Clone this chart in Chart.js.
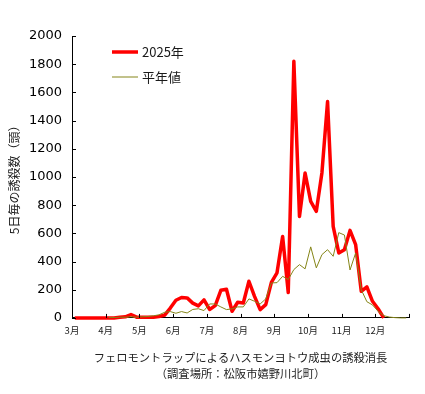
<!DOCTYPE html>
<html>
<head>
<meta charset="utf-8">
<script src="https://cdn.jsdelivr.net/npm/chart.js@4.4.1/dist/chart.umd.min.js"></script>
<style>
  html, body { margin: 0; padding: 0; background: #fff; }
</style>
</head>
<body>
<canvas id="chart" width="425" height="394"></canvas>
<script>
// month labels, one tick every 6 five-day periods
const monthLabels = ['3月', '4月', '5月', '6月', '7月', '8月', '9月', '10月', '11月', '12月', ''];

// trap catches per 5-day period, Mar 1 .. Dec 31 (60 periods)
const catch2025 = [
  0, 0, 0, 0, 0, 0,            // 3月
  0, 0, 5, 8, 24, 5,           // 4月
  5, 5, 5, 10, 20, 70,         // 5月
  125, 145, 142, 105, 85, 128, // 6月
  60, 87, 196, 203, 47, 111,   // 7月
  106, 260, 153, 59, 94, 252,  // 8月
  320, 578, 180, 1820, 720, 1028, // 9月
  827, 756, 1030, 1535, 650, 461, // 10月
  484, 621, 520, 189, 220, 118,   // 11月
  65, 0, null, null, null, null   // 12月
];

const normalYear = [
  null, null, null, null, null, null,
  2, 3, 5, 5, 8, 5,
  8, 10, 15, 22, 40, 45,
  33, 45, 35, 60, 65, 52,
  99, 99, 78, 59, 64, 78,
  78, 135, 118, 99, 135, 248,
  250, 295, 272, 343, 378, 348,
  504, 355, 449, 484, 437, 605,
  588, 340, 461, 200, 115, 92,
  47, 16, 6, 2, 0, 0
];

const seriesNames = ['2025年', '平年値'];

// place each value in the middle of its 5-day slot
function toPoints(values) {
  return values.map((v, i) => ({ x: i + 0.5, y: v }));
}

// small tick marks pointing into the plot, like the original
const innerTicks = {
  id: 'innerTicks',
  afterDraw(chart) {
    const { ctx, scales: { x, y } } = chart;
    ctx.save();
    ctx.strokeStyle = '#000';
    ctx.lineWidth = 1;
    ctx.beginPath();
    y.ticks.forEach(t => {
      const py = Math.round(y.getPixelForValue(t.value)) + 0.5;
      ctx.moveTo(x.left, py);
      ctx.lineTo(x.left + 4, py);
    });
    x.ticks.forEach(t => {
      const px = Math.round(x.getPixelForValue(t.value)) + 0.5;
      ctx.moveTo(px, y.bottom);
      ctx.lineTo(px, y.bottom - 4);
    });
    ctx.stroke();
    ctx.restore();
  }
};

// legend sitting inside the plot, top left
const insideLegend = {
  id: 'insideLegend',
  afterDraw(chart) {
    const ctx = chart.ctx;
    const left = 112, top = 52, gap = 25;
    ctx.save();
    ctx.font = '13px "Noto Sans CJK JP", sans-serif';
    ctx.textBaseline = 'middle';
    chart.data.datasets.forEach((ds, i) => {
      const yy = top + i * gap;
      ctx.strokeStyle = ds.borderColor;
      ctx.lineWidth = ds.borderWidth;
      ctx.beginPath();
      ctx.moveTo(left, yy);
      ctx.lineTo(left + 26, yy);
      ctx.stroke();
      ctx.fillStyle = '#1a1a1a';
      ctx.fillText(ds.label, left + 30, yy);
    });
    ctx.restore();
  }
};

const ctx = document.getElementById('chart').getContext('2d');
new Chart(ctx, {
  type: 'line',
  data: {
    datasets: [
      {
        label: seriesNames[0],
        data: toPoints(catch2025),
        borderColor: '#ff0000',
        borderWidth: 3.5,
        borderJoinStyle: 'round',
        pointRadius: 0,
        tension: 0,
        clip: 6,
        order: 1
      },
      {
        label: seriesNames[1],
        data: toPoints(normalYear),
        borderColor: '#858518',
        borderWidth: 1,
        pointRadius: 0,
        tension: 0,
        clip: 4,
        order: 0
      }
    ]
  },
  options: {
    responsive: false,
    animation: false,
    layout: { padding: { left: 0, top: 36, right: 16, bottom: 0 } },
    plugins: {
      legend: { display: false },
      tooltip: { enabled: false },
      title: {
        display: true,
        position: 'bottom',
        fullSize: false,
        text: ['フェロモントラップによるハスモンヨトウ成虫の誘殺消長', '（調査場所：松阪市嬉野川北町）'],
        color: '#222',
        font: { family: '"Noto Sans CJK JP", sans-serif', size: 11.3, weight: 'normal', lineHeight: 1.42 },
        padding: { top: 0, bottom: 12 }
      }
    },
    scales: {
      x: {
        type: 'linear',
        min: 0,
        max: 60,
        afterFit: s => { s.height = 32; },
        grid: { display: true, drawOnChartArea: false, drawTicks: false },
        border: { display: true, color: '#000', width: 1 },
        ticks: {
          stepSize: 6,
          autoSkip: false,
          maxRotation: 0,
          padding: 7,
          color: '#1a1a1a',
          font: { family: '"Noto Sans CJK JP", sans-serif', size: 9.5 },
          callback: v => monthLabels[Math.round(v / 6)]
        }
      },
      y: {
        min: 0,
        max: 2000,
        afterFit: s => { s.width = 72; },
        grid: { display: true, drawOnChartArea: false, drawTicks: false },
        border: { display: true, color: '#000', width: 1 },
        ticks: {
          stepSize: 200,
          padding: 10,
          color: '#000',
          font: { family: '"DejaVu Sans", sans-serif', size: 13 },
          callback: v => String(v)
        },
        title: {
          display: true,
          text: '5日毎の誘殺数（頭）',
          color: '#1a1a1a',
          font: { family: '"Noto Sans CJK JP", sans-serif', size: 12, lineHeight: 1.2 },
          padding: { top: 7, bottom: 0 }
        }
      }
    }
  },
  plugins: [innerTicks, insideLegend]
});
</script>
</body>
</html>
